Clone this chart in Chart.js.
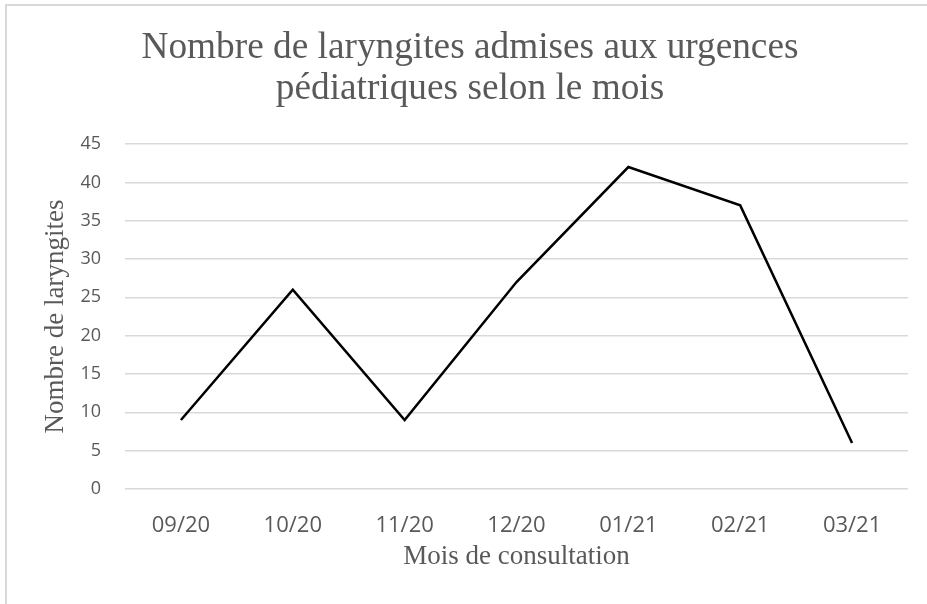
<!DOCTYPE html>
<html>
<head>
<meta charset="utf-8">
<script src="https://cdn.jsdelivr.net/npm/chart.js@4/dist/chart.umd.min.js"></script>
<style>
  html, body { margin: 0; padding: 0; background: #fff; overflow: hidden; }
  #frame {
    position: absolute; left: 5px; top: 4px; width: 1000px; height: 1000px;
    border-left: 2px solid #d9d9d9; border-top: 2px solid #d9d9d9;
  }
  #chart { position: absolute; left: 0; top: 0; }
</style>
</head>
<body>
<div id="frame"></div>
<canvas id="chart" width="927" height="604"></canvas>
<script>
// month of consultation
const months = ['09/20', '10/20', '11/20', '12/20', '01/21', '02/21', '03/21'];
// number of laryngitis cases
const cases = [9, 26, 9, 27, 42, 37, 6];

const titleLines = ['Nombre de laryngites admises aux urgences', 'pédiatriques selon le mois'];
const yTitle = 'Nombre de laryngites';
const xTitle = 'Mois de consultation';

const grey = '#595959';
const sans = '"Open Sans", sans-serif';
const serif = '"Liberation Serif", "Times New Roman", serif';

const ctx = document.getElementById('chart').getContext('2d');

new Chart(ctx, {
  type: 'line',
  data: {
    labels: months,
    datasets: [{
      label: yTitle,
      data: cases,
      borderColor: '#000',
      borderWidth: 2.5,
      pointRadius: 0,
      tension: 0,
      fill: false
    }]
  },
  options: {
    responsive: false,
    animation: false,
    devicePixelRatio: 1,
    layout: {
      padding: { left: 32, right: 19, top: 0, bottom: 0 }
    },
    plugins: {
      legend: { display: false },
      tooltip: { enabled: false },
      title: {
        display: true,
        text: titleLines,
        color: grey,
        font: { family: serif, size: 37.3, weight: 'normal', lineHeight: 1.1 },
        padding: { top: 28, bottom: 34 }
      }
    },
    scales: {
      x: {
        offset: true,
        grid: { display: false },
        border: { display: false },
        ticks: { color: grey, font: { family: sans, size: 22 }, padding: 16, maxRotation: 0 },
        title: {
          display: true,
          text: xTitle,
          color: grey,
          font: { family: serif, size: 27 },
          padding: { top: 0, bottom: 31 }
        },
        afterFit: function(scale) { scale.height = 115; }
      },
      y: {
        min: 0,
        max: 45,
        grid: { color: '#d9d9d9', lineWidth: 1.5, drawTicks: false },
        border: { display: false },
        ticks: { stepSize: 5, color: grey, font: { family: sans, size: 18 }, padding: 24 },
        title: {
          display: true,
          text: yTitle,
          color: grey,
          font: { family: serif, size: 27 },
          padding: { top: 8, bottom: 0 }
        },
        afterFit: function(scale) { scale.width = 93; }
      }
    }
  }
});
</script>
</body>
</html>
